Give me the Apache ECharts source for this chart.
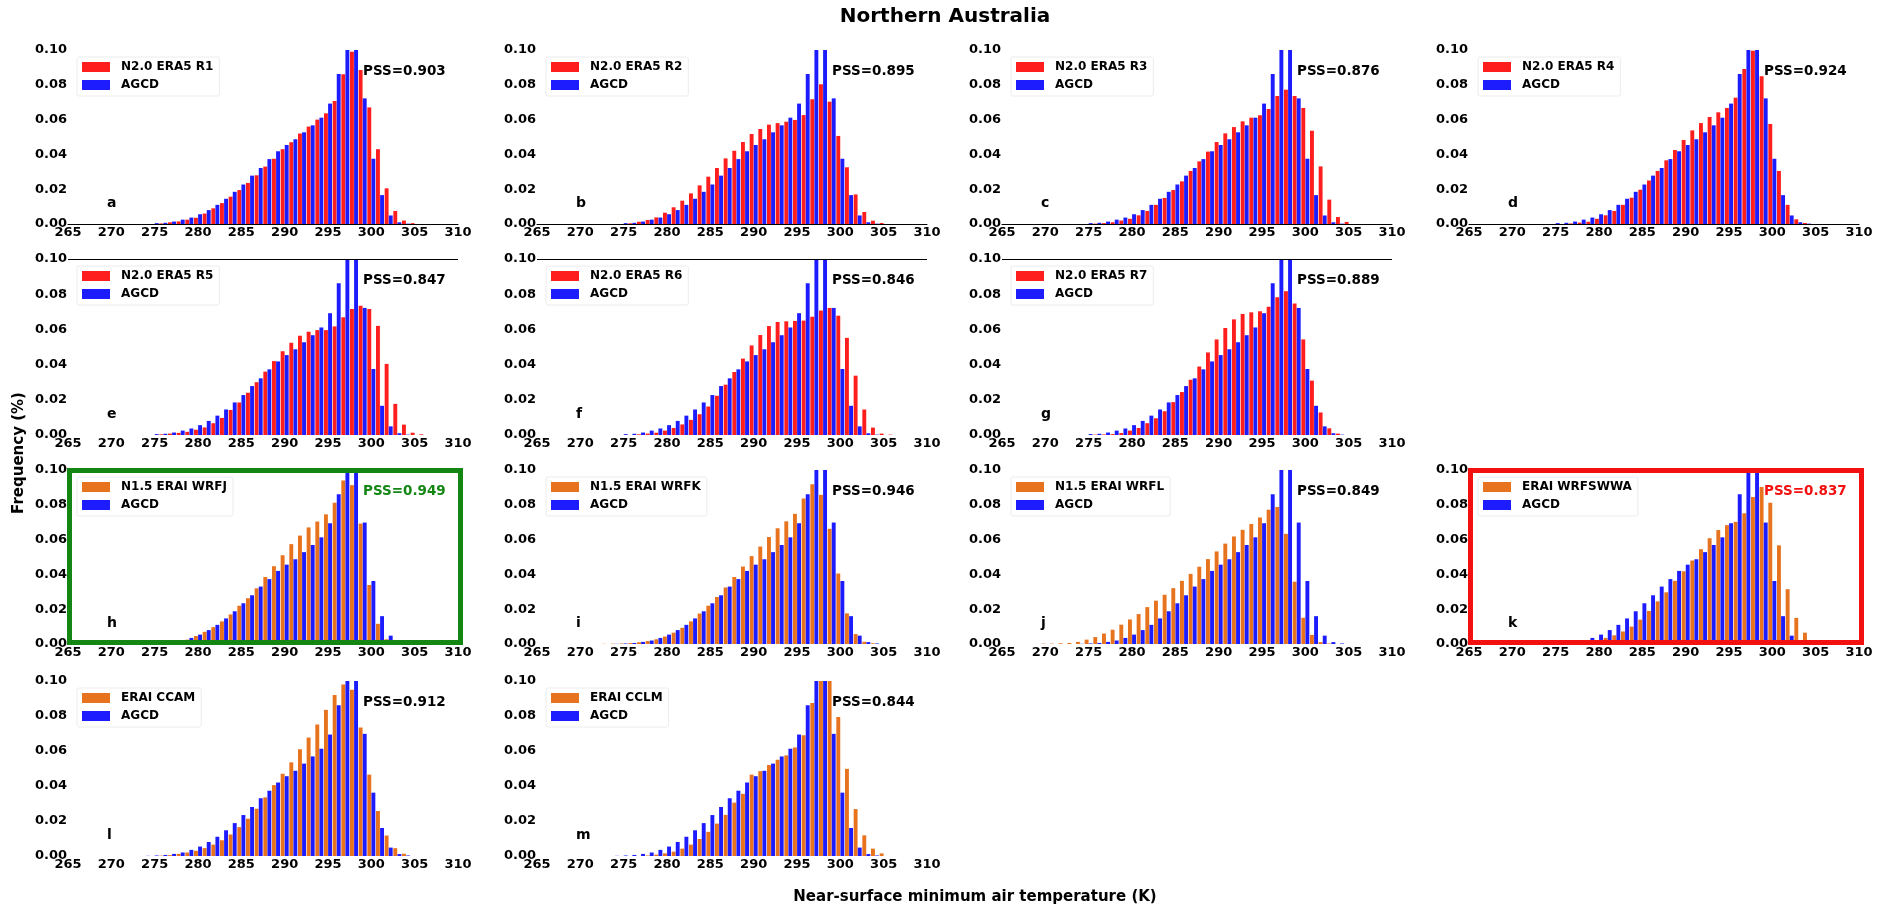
<!DOCTYPE html>
<html>
<head>
<meta charset="utf-8">
<title>Northern Australia</title>
<script src="https://cdn.jsdelivr.net/npm/echarts@6/dist/echarts.min.js"></script>
<style>
  html, body { margin: 0; padding: 0; background: #fff; }
  #chart { width: 1890px; height: 909px; }
</style>
</head>
<body>
<div id="chart"></div>
<script>
// Temperature bins (K), one bar pair per bin
const temps = [270, 271, 272, 273, 274, 275, 276, 277, 278, 279, 280, 281, 282, 283, 284, 285, 286, 287,
               288, 289, 290, 291, 292, 293, 294, 295, 296, 297, 298, 299, 300, 301, 302, 303, 304, 305, 306];

const xTicks = { min: 265, max: 310, step: 5 };
const yTicks = { min: 0, max: 0.1, step: 0.02 };

// Observed frequencies (AGCD) for the ERA5 and ERA-Interim periods
const agcdEra5 = [0, 0, 0, 0, 0, 0.0005, 0.0007, 0.0014, 0.0025, 0.0037, 0.0056, 0.008, 0.011, 0.0145, 0.0185, 0.0227, 0.0278, 0.0322,
                  0.0373, 0.0418, 0.0454, 0.0487, 0.0527, 0.0567, 0.0611, 0.0692, 0.0862, 0.106, 0.104, 0.0722, 0.0375, 0.0166, 0.0049, 0.001, 0.0002, 0, 0];
const agcdErai = [0, 0, 0, 0, 0.0001, 0.0003, 0.0006, 0.0012, 0.002, 0.0035, 0.0054, 0.008, 0.011, 0.0147, 0.0188, 0.0234, 0.028, 0.033,
                  0.0373, 0.042, 0.0456, 0.0487, 0.0528, 0.0569, 0.0613, 0.0694, 0.0861, 0.106, 0.104, 0.0698, 0.0362, 0.016, 0.0048, 0.0011, 0.0003, 0, 0];

// Modelled frequencies
const era5R1 = [0, 0, 0, 0, 0, 0, 0.0003, 0.001, 0.0015, 0.0025, 0.0036, 0.006, 0.009, 0.012, 0.0157, 0.0195, 0.0236, 0.028,
                0.033, 0.0375, 0.043, 0.047, 0.052, 0.056, 0.060, 0.0636, 0.0707, 0.086, 0.099, 0.0885, 0.067, 0.043, 0.0205, 0.0075, 0.002, 0.0005, 0];
const era5R2 = [0, 0, 0, 0, 0, 0, 0.0004, 0.0013, 0.0023, 0.0038, 0.0065, 0.0096, 0.0134, 0.0176, 0.0222, 0.0272, 0.0322, 0.0377,
                0.0421, 0.0471, 0.0517, 0.0546, 0.0571, 0.058, 0.0588, 0.0598, 0.0626, 0.0717, 0.0803, 0.0703, 0.0506, 0.0326, 0.017, 0.0069, 0.0019, 0.0006, 0];
const era5R3 = [0, 0, 0, 0, 0, 0, 0.0002, 0.0005, 0.001, 0.002, 0.003, 0.005, 0.0075, 0.011, 0.015, 0.0195, 0.0245, 0.0305,
                0.036, 0.0416, 0.0471, 0.0521, 0.0557, 0.059, 0.0611, 0.0625, 0.0661, 0.0736, 0.0772, 0.0736, 0.0667, 0.0536, 0.0331, 0.014, 0.004, 0.0012, 0];
const era5R4 = [0, 0, 0, 0, 0, 0, 0, 0.0003, 0.0008, 0.0013, 0.003, 0.005, 0.0075, 0.011, 0.0151, 0.0197, 0.025, 0.0305,
                0.0366, 0.0425, 0.0483, 0.0538, 0.058, 0.0615, 0.0642, 0.0667, 0.0726, 0.0891, 0.0996, 0.0849, 0.0575, 0.0305, 0.011, 0.0027, 0.0006, 0, 0];
const era5R5 = [0, 0, 0, 0, 0, 0, 0.0004, 0.0008, 0.0012, 0.0018, 0.003, 0.0043, 0.0067, 0.0097, 0.0142, 0.0185, 0.024, 0.030,
                0.036, 0.042, 0.0476, 0.0524, 0.0564, 0.0587, 0.0596, 0.0596, 0.0617, 0.0669, 0.0716, 0.0735, 0.0716, 0.062, 0.0404, 0.0177, 0.0059, 0.0013, 0.0004];
const era5R6 = [0, 0, 0, 0, 0, 0, 0, 0.0004, 0.0008, 0.0013, 0.0025, 0.004, 0.006, 0.0086, 0.0118, 0.0162, 0.0223, 0.0286,
                0.0358, 0.0434, 0.0509, 0.0568, 0.0619, 0.0642, 0.0646, 0.0648, 0.065, 0.0672, 0.0707, 0.0722, 0.0678, 0.0552, 0.0337, 0.0145, 0.0042, 0.0008, 0.0002];
const era5R7 = [0, 0, 0, 0, 0, 0, 0.0002, 0.0003, 0.0005, 0.0011, 0.0025, 0.004, 0.0067, 0.0095, 0.0135, 0.0187, 0.0244, 0.0314,
                0.0389, 0.0469, 0.0543, 0.0608, 0.0657, 0.0688, 0.0697, 0.0703, 0.0728, 0.0783, 0.0817, 0.0747, 0.0543, 0.0309, 0.0128, 0.0038, 0.0008, 0, 0];
const eraiWrfj = [0, 0, 0, 0, 0, 0, 0.0002, 0.0005, 0.0014, 0.0025, 0.0046, 0.007, 0.0097, 0.013, 0.017, 0.022, 0.0263, 0.032,
                  0.0385, 0.0447, 0.051, 0.0574, 0.0623, 0.067, 0.0704, 0.0745, 0.0812, 0.094, 0.0913, 0.0692, 0.0339, 0.0116, 0.0027, 0, 0, 0, 0];
const eraiWrfk = [0, 0, 0, 0.0001, 0.0002, 0.0003, 0.0005, 0.001, 0.0017, 0.0027, 0.0043, 0.0065, 0.0093, 0.013, 0.0175, 0.022, 0.027, 0.0325,
                  0.0385, 0.0445, 0.0505, 0.056, 0.0615, 0.0665, 0.0705, 0.0748, 0.0836, 0.0918, 0.0857, 0.0662, 0.0405, 0.0176, 0.0057, 0.0013, 0.0004, 0, 0];
const eraiWrfl = [0.0002, 0.0002, 0.0004, 0.0006, 0.0012, 0.0025, 0.004, 0.006, 0.0082, 0.0111, 0.0141, 0.0172, 0.0212, 0.0249, 0.0283, 0.0321, 0.0363, 0.0403,
                  0.0444, 0.0488, 0.0532, 0.0577, 0.0618, 0.0656, 0.069, 0.0727, 0.0772, 0.0788, 0.0633, 0.0358, 0.0151, 0.0052, 0.0011, 0.0003, 0, 0, 0];
const eraiWrfswwa = [0, 0, 0, 0, 0, 0, 0, 0.0002, 0.0005, 0.001, 0.002, 0.0035, 0.005, 0.0072, 0.01, 0.014, 0.019, 0.0245,
                     0.0297, 0.0363, 0.0418, 0.048, 0.0545, 0.0608, 0.0655, 0.0683, 0.0702, 0.0752, 0.0845, 0.0903, 0.0812, 0.0567, 0.0315, 0.015, 0.0065, 0.002, 0];
const eraiCcam = [0, 0, 0, 0, 0, 0, 0.0002, 0.0005, 0.0012, 0.002, 0.003, 0.0045, 0.0065, 0.009, 0.0123, 0.0165, 0.0213, 0.027,
                  0.0335, 0.0405, 0.047, 0.0535, 0.061, 0.0677, 0.0752, 0.0835, 0.092, 0.098, 0.095, 0.0735, 0.0465, 0.0257, 0.0117, 0.0045, 0.0013, 0, 0];
const eraiCclm = [0, 0, 0, 0, 0, 0, 0, 0, 0.0003, 0.0008, 0.0015, 0.0025, 0.0042, 0.0065, 0.0097, 0.0138, 0.0185, 0.0235,
                  0.0305, 0.0355, 0.0465, 0.0485, 0.052, 0.055, 0.0575, 0.062, 0.069, 0.0875, 0.104, 0.102, 0.0795, 0.0498, 0.0268, 0.0118, 0.0042, 0.0015, 0];

// Panel descriptions
const panelLetters = ['a', 'b', 'c', 'd', 'e', 'f', 'g', 'h', 'i', 'j', 'k', 'l', 'm'];
const modelNames = ['N2.0 ERA5 R1', 'N2.0 ERA5 R2', 'N2.0 ERA5 R3', 'N2.0 ERA5 R4', 'N2.0 ERA5 R5', 'N2.0 ERA5 R6', 'N2.0 ERA5 R7',
                    'N1.5 ERAI WRFJ', 'N1.5 ERAI WRFK', 'N1.5 ERAI WRFL', 'ERAI WRFSWWA', 'ERAI CCAM', 'ERAI CCLM'];
const pssScores = ['0.903', '0.895', '0.876', '0.924', '0.847', '0.846', '0.889', '0.949', '0.946', '0.849', '0.837', '0.912', '0.844'];
const modelSeries = [era5R1, era5R2, era5R3, era5R4, era5R5, era5R6, era5R7, eraiWrfj, eraiWrfk, eraiWrfl, eraiWrfswwa, eraiCcam, eraiCclm];
const obsSeries = [agcdEra5, agcdEra5, agcdEra5, agcdEra5, agcdEra5, agcdEra5, agcdEra5, agcdErai, agcdErai, agcdErai, agcdErai, agcdErai, agcdErai];

// Layout: grid slot (row, column) for each panel
const slots = [[0, 0], [0, 1], [0, 2], [0, 3], [1, 0], [1, 1], [1, 2], [2, 0], [2, 1], [2, 2], [2, 3], [3, 0], [3, 1]];
const colLeft = [68, 537, 1002, 1469];
const plotW = 390;
const rowTop = [50, 259, 470, 681];
const rowH = [174, 176, 174, 175];

const RED = '#ff1e1e', BLUE = '#1c1cff', ORANGE = '#e8731f';
const GREEN = '#148614', BORDER_RED = '#f21010';
const FONT = '"DejaVu Sans", Verdana, sans-serif';

const chart = echarts.init(document.getElementById('chart'), null, { renderer: 'canvas' });

const grids = [], xAxes = [], yAxes = [], series = [], legends = [], graphics = [];

panelLetters.forEach((letter, i) => {
  const [r, c] = slots[i];
  const left = colLeft[c], top = rowTop[r], height = rowH[r];
  const modelColor = i < 7 ? RED : ORANGE;
  const highlight = i === 7 ? GREEN : (i === 10 ? BORDER_RED : null);

  grids.push({ left: left, top: top, width: plotW, height: height, containLabel: false });

  xAxes.push({
    type: 'value', gridIndex: i,
    min: xTicks.min, max: xTicks.max, interval: xTicks.step,
    axisLine: { show: r === 0, onZero: false, lineStyle: { color: '#000', width: 1 } },
    axisTick: { show: false },
    splitLine: { show: false },
    axisLabel: { color: '#000', fontFamily: FONT, fontWeight: 'bold', fontSize: 13, margin: 2 }
  });
  yAxes.push({
    type: 'value', gridIndex: i,
    min: yTicks.min, max: yTicks.max, interval: yTicks.step,
    axisLine: { show: false }, axisTick: { show: false }, splitLine: { show: false },
    axisLabel: { color: '#000', fontFamily: FONT, fontWeight: 'bold', fontSize: 13, margin: 1,
                 formatter: v => v.toFixed(2) }
  });

  const modelBar = {
    name: modelNames[i], type: 'bar', xAxisIndex: i, yAxisIndex: i,
    barWidth: 3.9, barGap: '5%', clip: true,
    itemStyle: { color: modelColor },
    data: temps.map((t, k) => [t, modelSeries[i][k]])
  };
  if (r === 1) {
    // row of panels framed by a line along the upper limit
    modelBar.markLine = {
      silent: true, symbol: 'none', label: { show: false },
      lineStyle: { color: '#000', width: 1, type: 'solid' },
      data: [{ yAxis: yTicks.max }]
    };
  }
  series.push(modelBar);
  series.push({
    name: 'AGCD', type: 'bar', xAxisIndex: i, yAxisIndex: i,
    barWidth: 3.9, barGap: '5%', clip: true,
    itemStyle: { color: BLUE },
    data: temps.map((t, k) => [t, obsSeries[i][k]])
  });

  legends.push({
    data: [modelNames[i], 'AGCD'],
    orient: 'vertical', left: left + 9, top: top + 7,
    padding: [4, 6, 5, 5], itemGap: 6, itemWidth: 28, itemHeight: 10,
    icon: 'rect', backgroundColor: '#fff', borderColor: '#ececec', borderWidth: 1, borderRadius: 2,
    selectedMode: false,
    textStyle: { color: '#000', fontFamily: FONT, fontWeight: 'bold', fontSize: 12, padding: [0, 0, 0, 6] }
  });

  // PSS score and panel letter
  graphics.push({
    type: 'text', x: left + 295, y: top + 21, z: 10,
    style: { text: 'PSS=' + pssScores[i], fill: highlight || '#000',
             font: 'bold 13.5px ' + FONT, textAlign: 'left', textVerticalAlign: 'middle', verticalAlign: 'middle' }
  });
  graphics.push({
    type: 'text', x: left + 39, y: top + height - 21, z: 10,
    style: { text: letter, fill: '#000',
             font: 'bold 14px ' + FONT, textAlign: 'left', textVerticalAlign: 'middle', verticalAlign: 'middle' }
  });

  if (highlight) {
    graphics.push({
      type: 'rect', z: 20,
      shape: { x: left + 1.5, y: top + 0.5, width: plotW + 1, height: height - 2 },
      style: { fill: 'none', stroke: highlight, lineWidth: 5 }
    });
  }
});

// Figure titles
graphics.push({
  type: 'text', x: 945, y: 17,
  style: { text: 'Northern Australia', fill: '#000', font: 'bold 20px ' + FONT,
           textAlign: 'center', textVerticalAlign: 'middle', verticalAlign: 'middle', align: 'center' }
});
graphics.push({
  type: 'text', x: 975, y: 897,
  style: { text: 'Near-surface minimum air temperature (K)', fill: '#000', font: 'bold 15px ' + FONT,
           textAlign: 'center', textVerticalAlign: 'middle', verticalAlign: 'middle', align: 'center' }
});
graphics.push({
  type: 'text', x: 19, y: 453, rotation: Math.PI / 2,
  style: { text: 'Frequency (%)', fill: '#000', font: 'bold 15px ' + FONT,
           textAlign: 'center', textVerticalAlign: 'middle', verticalAlign: 'middle', align: 'center' }
});

chart.setOption({
  backgroundColor: '#fff',
  animation: false,
  grid: grids,
  xAxis: xAxes,
  yAxis: yAxes,
  legend: legends,
  series: series,
  graphic: graphics
});
</script>
</body>
</html>
